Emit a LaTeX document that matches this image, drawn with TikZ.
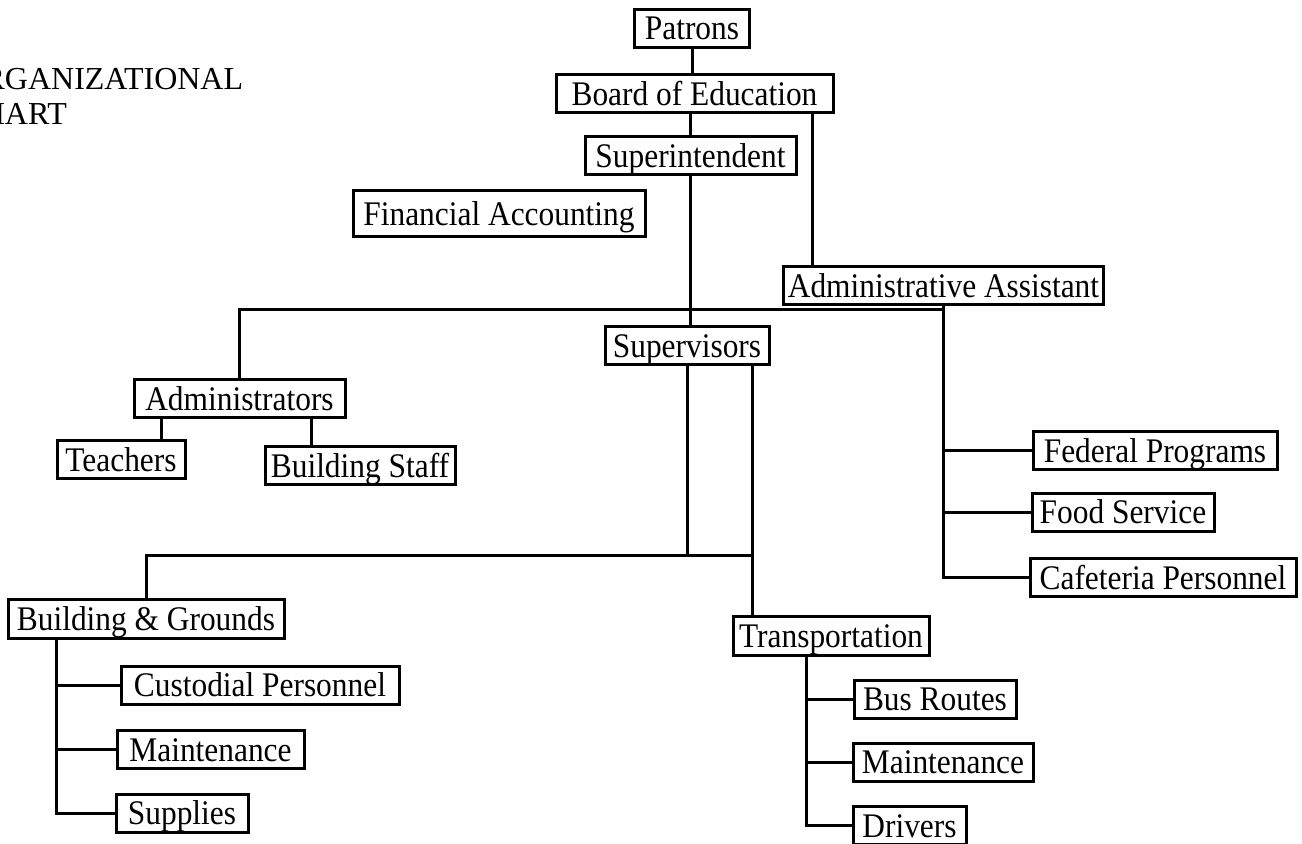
\documentclass[tikz,border=0pt]{standalone}
\usepackage{fontspec}
\setmainfont{Liberation Serif}
\newfontfamily\boxfont{Liberation Serif}[FakeStretch=0.91]
\begin{document}
\begin{tikzpicture}[x=0.5pt, y=-0.5pt, line width=1.5pt,
    box/.style={draw, font=\boxfont\fontsize{17.25}{19}\selectfont, minimum height=19pt,
      inner xsep=2pt, inner ysep=1.5pt, text height=13.5pt, text depth=2pt},
    heading/.style={anchor=base west, inner sep=0pt, font=\fontsize{16}{18}\selectfont}]
    \useasboundingbox (0,0) rectangle (1302,844);
    \begin{scope}
        \clip (0,0) rectangle (1302,844);
        \node[heading] (title1) at (-41,90) {ORGANIZATIONAL};
        \node[heading] (title2) at (-41,125) {CHART};
    \end{scope}

    \node[box, minimum width=57.5pt] (patrons) at (692,28.5) {Patrons};
    \node[box, minimum width=138.5pt] (board) at (694.5,94) {Board of Education};
    \node[box, minimum width=105.5pt] (supt) at (690.5,156) {Superintendent};
    \node[box, minimum width=146pt, minimum height=23pt] (finacc) at (499,214) {Financial Accounting};
    \node[box, minimum width=158.5pt] (adminasst) at (943.5,286) {Administrative Assistant};
    \node[box, minimum width=82pt] (supervisors) at (687,346) {Supervisors};
    \node[box, minimum width=105.5pt] (administrators) at (239.5,399) {Administrators};
    \node[box, minimum width=64pt] (teachers) at (121,460) {Teachers};
    \node[box, minimum width=95pt] (bstaff) at (360,466) {Building Staff};
    \node[box, minimum width=122pt] (fedprog) at (1155,451) {Federal Programs};
    \node[box, minimum width=91pt] (foodserv) at (1123,512.5) {Food Service};
    \node[box, minimum width=133pt] (cafeteria) at (1163,577.5) {Cafeteria Personnel};
    \node[box, minimum width=138pt] (bgrounds) at (146,619) {Building \& Grounds};
    \node[box, minimum width=139pt] (custodial) at (260,685.5) {Custodial Personnel};
    \node[box, minimum width=93.5pt] (bgmaint) at (210.5,749.5) {Maintenance};
    \node[box, minimum width=66pt] (supplies) at (182,813) {Supplies};
    \node[box, minimum width=98pt] (transport) at (831,636) {Transportation};
    \node[box, minimum width=81pt] (busroutes) at (935,699.5) {Bus Routes};
    \node[box, minimum width=90pt] (trmaint) at (943,762) {Maintenance};
    \node[box, minimum width=56.5pt] (drivers) at (909.5,825.5) {Drivers};

    \coordinate (upperbar) at (0,310);
    \coordinate (lowerbar) at (0,556);
    \coordinate (aadrop) at ([xshift=15pt]adminasst.north west);
    \coordinate (teachdrop) at ([xshift=14.5pt]administrators.south west);
    \coordinate (staffdrop) at ([xshift=-17.5pt]administrators.south east);
    \coordinate (trdrop) at ([xshift=-9pt]supervisors.south east);
    \coordinate (bgtrunk) at ([xshift=25pt]bgrounds.south west);
    \coordinate (trtrunk) at ([xshift=37.5pt]transport.south west);

    \draw (patrons.south) -- (patrons.south |- board.north);
    \draw (supt.north |- board.south) -- (supt.north);
    \draw (aadrop |- board.south) -- (aadrop);
    \draw (supt.south) -- (supt.south |- supervisors.north);
    \draw (administrators.north) |- (adminasst.south |- upperbar);
    \draw (adminasst.south) |- (cafeteria.west);
    \draw (adminasst.south |- fedprog.west) -- (fedprog.west);
    \draw (adminasst.south |- foodserv.west) -- (foodserv.west);
    \draw (teachdrop) -- (teachdrop |- teachers.north);
    \draw (staffdrop) -- (staffdrop |- bstaff.north);
    \draw (supervisors.south) -- (supervisors.south |- lowerbar);
    \draw (trdrop) -- (trdrop |- transport.north);
    \draw (bgrounds.north) |- (trdrop |- lowerbar);
    \draw (bgtrunk) |- (supplies.west);
    \draw (bgtrunk |- custodial.west) -- (custodial.west);
    \draw (bgtrunk |- bgmaint.west) -- (bgmaint.west);
    \draw (trtrunk) |- (drivers.west);
    \draw (trtrunk |- busroutes.west) -- (busroutes.west);
    \draw (trtrunk |- trmaint.west) -- (trmaint.west);
\end{tikzpicture}
\end{document}
